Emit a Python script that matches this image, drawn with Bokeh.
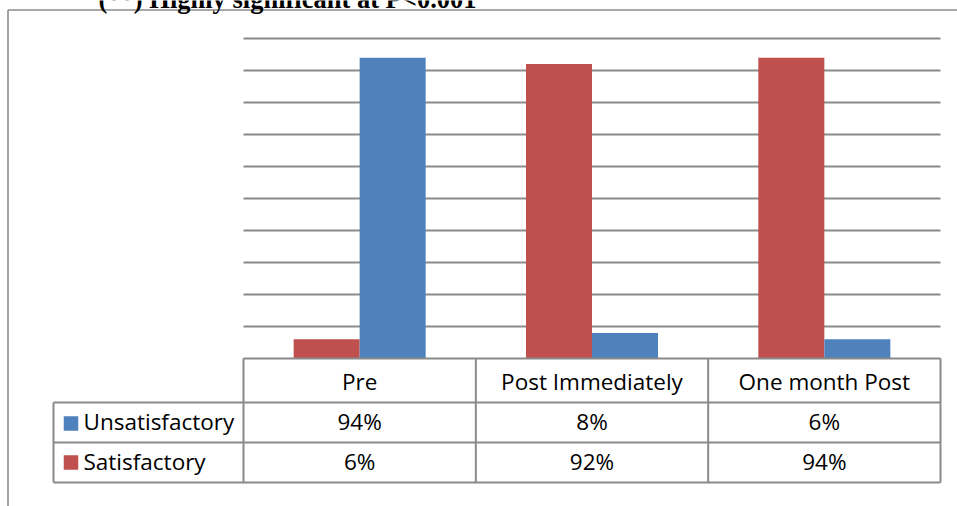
from bokeh.plotting import figure
from bokeh.models import Range1d
from bokeh.core.properties import value
from bokeh.embed import file_html
from bokeh.resources import INLINE

# ---- data ----
categories = ["Pre", "Post Immediately", "One month Post"]
series_names = ["Unsatisfactory", "Satisfactory"]
unsatisfactory = [94, 8, 6]
satisfactory = [6, 92, 94]
grid_ticks = [10, 20, 30, 40, 50, 60, 70, 80, 90, 100]
title_text = "(**) Highly significant at P<0.001"

BLUE = "#4F81BD"
RED = "#C0504D"
GRAY = "#8a8a8a"

W, H = 957, 506
# pixel layout of the plot area
X0, X1 = 243, 940          # category area left / right
Y0, Y100 = 358, 38         # value 0 and value 100
CW = (X1 - X0) / 3.0       # category width in px
PPV = (Y0 - Y100) / 100.0  # px per value unit

def ux(px):
    return (px - X0) / CW

def vy(py):
    return (Y0 - py) / PPV

p = figure(width=W, height=H, x_range=Range1d(ux(0), ux(W)), y_range=Range1d(vy(H), vy(0)),
           x_axis_type=None, y_axis_type=None, toolbar_location=None,
           output_backend="svg", min_border=0)
p.outline_line_color = None
p.background_fill_color = "white"
p.border_fill_color = "white"

# outer frame (left and top edges visible)
p.segment(x0=[ux(7.5), ux(7.5)], y0=[vy(9.5), vy(9.5)], x1=[ux(7.5), ux(W + 5)], y1=[vy(H + 5), vy(9.5)],
          line_color="#8c8c8c", line_width=1.6)

# title (partly cut off at the top, as in the source)
p.text(x=[ux(98)], y=[vy(-1.5)], text=[title_text], text_font=value("Liberation Serif"),
       text_font_style="bold", text_font_size="26.5px", text_color="black",
       text_baseline="middle", text_align="left")

# gridlines
n = len(categories)
p.segment(x0=[0] * len(grid_ticks), x1=[n] * len(grid_ticks), y0=grid_ticks, y1=grid_ticks,
          line_color=GRAY, line_width=1.8)

# bars
bw = 66 / CW
idx = list(range(n))
p.vbar(x=[i + 0.5 - bw / 2 for i in idx], top=satisfactory, bottom=0, width=bw,
       fill_color=RED, line_color=None)
p.vbar(x=[i + 0.5 + bw / 2 for i in idx], top=unsatisfactory, bottom=0, width=bw,
       fill_color=BLUE, line_color=None)

# data table
r_top, r_h1, r_h2, r_bot = 0, vy(402), vy(442), vy(482)
lab_left = ux(53)
hx0 = [0, lab_left, lab_left, lab_left]
hx1 = [n, n, n, n]
hy = [r_top, r_h1, r_h2, r_bot]
p.segment(x0=hx0, x1=hx1, y0=hy, y1=hy, line_color=GRAY, line_width=2)
vx = [lab_left] + list(range(n + 1))
vy0 = [r_h1] + [r_top] * (n + 1)
vy1 = [r_bot] * (n + 2)
p.segment(x0=vx, x1=vx, y0=vy0, y1=vy1, line_color=GRAY, line_width=2)

FONT = value("Open Sans")
FS = "22.5px"
# header
p.text(x=[i + 0.5 for i in idx], y=[vy(381)] * n, text=categories, text_font=FONT,
       text_font_size=FS, text_align="center", text_baseline="middle", text_color="black")
# rows
p.text(x=[i + 0.5 for i in idx], y=[vy(421)] * n, text=[f"{v}%" for v in unsatisfactory],
       text_font=FONT, text_font_size=FS, text_align="center", text_baseline="middle",
       text_color="black")
p.text(x=[i + 0.5 for i in idx], y=[vy(461)] * n, text=[f"{v}%" for v in satisfactory],
       text_font=FONT, text_font_size=FS, text_align="center", text_baseline="middle",
       text_color="black")
# legend keys in table
p.scatter(x=[ux(70.5), ux(70.5)], y=[vy(423), vy(462)], marker="square", size=14.5,
          fill_color=[BLUE, RED], line_color=None)
p.text(x=[ux(83), ux(83)], y=[vy(421), vy(461)], text=series_names, text_font=FONT,
       text_font_size=FS, text_align="left", text_baseline="middle", text_color="black")

open("out.html", "w").write(file_html(p, INLINE))
